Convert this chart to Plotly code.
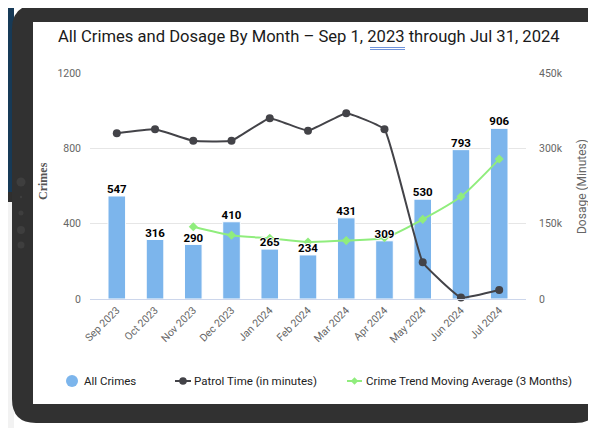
import plotly.graph_objects as go

months = ["Sep 2023", "Oct 2023", "Nov 2023", "Dec 2023", "Jan 2024", "Feb 2024",
          "Mar 2024", "Apr 2024", "May 2024", "Jun 2024", "Jul 2024"]
all_crimes = [547, 316, 290, 410, 265, 234, 431, 309, 530, 793, 906]
patrol_minutes = [330000, 338000, 315000, 315000, 360000, 335000, 370000, 338000, 73000, 3000, 18000]
moving_avg = [None, None, 384, 339, 322, 303, 310, 325, 423, 544, 743]
left_ticks = [0, 400, 800, 1200]
right_ticks = [0, 150000, 300000, 450000]
right_tick_text = ["0", "150k", "300k", "450k"]
series_names = ["All Crimes", "Patrol Time (in minutes)", "Crime Trend Moving Average (3 Months)"]
series_colors = ["#7cb5ec", "#434348", "#90ed7d"]

# the page body has an 8px margin; design coordinates below are reference pixels
OFF = 8
W, H = 596 - OFF, 428 - OFF
PX0, PX1, PY0, PY1 = 90, 526, 73, 299          # plot area in reference pixels
L, R, T, B = PX0 - OFF, W - (PX1 - OFF), PY0 - OFF, H - (PY1 - OFF)
PW, PH = PX1 - PX0, PY1 - PY0


def px(x):
    return (x - PX0) / PW


def py(y):
    return (PY1 - y) / PH


def rrect(x0, y0, x1, y1, r):
    pts = [
        ("M", [(x0 + r, y0)]), ("L", [(x1 - r, y0)]), ("Q", [(x1, y0), (x1, y0 + r)]),
        ("L", [(x1, y1 - r)]), ("Q", [(x1, y1), (x1 - r, y1)]), ("L", [(x0 + r, y1)]),
        ("Q", [(x0, y1), (x0, y1 - r)]), ("L", [(x0, y0 + r)]), ("Q", [(x0, y0), (x0 + r, y0)]),
    ]
    s = ""
    for cmd, ps in pts:
        s += cmd + " " + " ".join(f"{px(a):.5f},{py(b):.5f}" for a, b in ps) + " "
    return s + "Z"


def rect(x0, y0, x1, y1, color, layer="below"):
    return dict(type="rect", xref="paper", yref="paper", x0=px(x0), x1=px(x1),
                y0=py(y1), y1=py(y0), fillcolor=color, line_width=0, layer=layer)


def circ(cx, cy, r, color, layer="below"):
    return dict(type="circle", xref="paper", yref="paper", x0=px(cx - r), x1=px(cx + r),
                y0=py(cy + r), y1=py(cy - r), fillcolor=color, line_width=0, layer=layer)


def hline(x0, x1, y, color, width):
    return dict(type="line", xref="paper", yref="paper", x0=px(x0), x1=px(x1),
                y0=py(y), y1=py(y), line=dict(color=color, width=width), layer="above")


def diamond(cx, cy, r, color):
    path = (f"M {px(cx):.5f},{py(cy - r):.5f} L {px(cx + r):.5f},{py(cy):.5f} "
            f"L {px(cx):.5f},{py(cy + r):.5f} L {px(cx - r):.5f},{py(cy):.5f} Z")
    return dict(type="path", xref="paper", yref="paper", path=path, fillcolor=color,
                line_width=0, layer="above")


FONT = "Roboto, Liberation Sans, sans-serif"
OUTLINE = "1px 0 0 #fff, -1px 0 0 #fff, 0 1px 0 #fff, 0 -1px 0 #fff"

fig = go.Figure()
fig.add_trace(go.Bar(
    x=months, y=all_crimes, name=series_names[0], showlegend=False,
    marker=dict(color=series_colors[0], line=dict(color="#ffffff", width=1)),
    yaxis="y"))
fig.add_trace(go.Scatter(
    x=months, y=patrol_minutes, name=series_names[1], mode="lines+markers", showlegend=False,
    line=dict(color=series_colors[1], width=2, shape="spline", smoothing=0.3),
    marker=dict(color=series_colors[1], size=8, symbol="circle"), cliponaxis=False, yaxis="y2"))
fig.add_trace(go.Scatter(
    x=months, y=moving_avg, name=series_names[2], mode="lines+markers", showlegend=False,
    line=dict(color=series_colors[2], width=2, shape="spline", smoothing=0.7),
    marker=dict(color=series_colors[2], size=7, symbol="diamond"), cliponaxis=False, yaxis="y"))
# data labels on top of everything
fig.add_trace(go.Scatter(
    x=months, y=all_crimes, mode="text", text=[str(v) for v in all_crimes],
    textposition="top center", showlegend=False, hoverinfo="skip", cliponaxis=False,
    textfont=dict(family=FONT, size=11.5, color="#000000", weight="bold", shadow=OUTLINE),
    yaxis="y"))

shapes = []
# background fragments around the tablet
shapes.append(rect(0, 0, 215, 6, "#173a57"))
shapes.append(rect(0, 0, 14, 192, "#173a57"))
shapes.append(rect(0, 192, 14, 202, "#2f2f2f"))
shapes.append(rect(0, 202, 14, 428, "#f2f2f2"))
shapes.append(rect(215, 0, 600, 6, "#f4f4f4"))
# tablet frame
shapes.append(dict(type="path", xref="paper", yref="paper", path=rrect(12, 5, 599, 423, 24),
                   fillcolor="#313131", line_width=0, layer="below"))
# screen
shapes.append(rect(33, 22, 589, 404, "#ffffff"))
# buttons on frame
for cx, cy, r in [(21, 182, 4.5), (21, 197, 1.2), (21, 213, 2.5), (21, 230, 4), (21, 245, 3.5)]:
    shapes.append(circ(cx, cy, r, "#3e3e3e"))
# spell-check underline under "2023"
for yy in (47.5, 49.5):
    shapes.append(hline(370, 405, yy, "#6f93db", 1))

# legend (custom, to match the reference layout)
LEG_Y = 381
shapes.append(circ(72, LEG_Y, 6, series_colors[0], layer="above"))
shapes.append(hline(175, 191, LEG_Y, series_colors[1], 2))
shapes.append(circ(183, LEG_Y, 3.8, series_colors[1], layer="above"))
shapes.append(hline(347, 362, LEG_Y, series_colors[2], 2))
shapes.append(diamond(354.5, LEG_Y, 3.8, series_colors[2]))

LEG_FONT = dict(family=FONT, size=11.5, color="#222222")
annotations = [
    dict(text="All Crimes and Dosage By Month \u2013 Sep 1, 2023 through Jul 31, 2024",
         xref="paper", yref="paper", x=px(309), y=py(37), xanchor="center", yanchor="middle",
         showarrow=False, font=dict(family=FONT, size=16.6, color="#1a1a1a")),
    dict(text="Crimes", xref="paper", yref="paper", x=px(43), y=py(181), textangle=-90,
         xanchor="center", yanchor="middle", showarrow=False,
         font=dict(family="Liberation Serif, serif", size=12, color="#555555", weight="bold")),
    dict(text="Dosage (Minutes)", xref="paper", yref="paper", x=px(582), y=py(187), textangle=-90,
         xanchor="center", yanchor="middle", showarrow=False,
         font=dict(family=FONT, size=12, color="#666666")),
    dict(text=series_names[0], xref="paper", yref="paper", x=px(82), y=py(LEG_Y),
         xanchor="left", yanchor="middle", showarrow=False, font=LEG_FONT),
    dict(text=series_names[1], xref="paper", yref="paper", x=px(192), y=py(LEG_Y),
         xanchor="left", yanchor="middle", showarrow=False, font=LEG_FONT),
    dict(text=series_names[2], xref="paper", yref="paper", x=px(364), y=py(LEG_Y),
         xanchor="left", yanchor="middle", showarrow=False, font=LEG_FONT),
]

fig.update_layout(
    width=W, height=H, margin=dict(l=L, r=R, t=T, b=B, pad=0),
    paper_bgcolor="#ffffff", plot_bgcolor="rgba(0,0,0,0)",
    bargap=0.54, shapes=shapes, annotations=annotations, showlegend=False,
    font=dict(family=FONT, color="#666666", size=11),
    xaxis=dict(type="category", showgrid=False, showline=True, linecolor="#ccd6eb", linewidth=1,
               tickangle=-45, tickfont=dict(family=FONT, size=10.5, color="#666666"),
               ticks="", zeroline=False),
    yaxis=dict(range=[0, 1200], tickvals=left_ticks, showgrid=True, gridcolor="#e6e6e6",
               zeroline=False, ticks="", ticklabelstandoff=8,
               tickfont=dict(family=FONT, size=10.5, color="#666666")),
    yaxis2=dict(range=[0, 450000], overlaying="y", side="right", tickvals=right_ticks,
                ticktext=right_tick_text, showgrid=False, zeroline=False, ticks="",
                ticklabelstandoff=12, tickfont=dict(family=FONT, size=10.5, color="#666666")),
)

fig.write_html("out.html")
